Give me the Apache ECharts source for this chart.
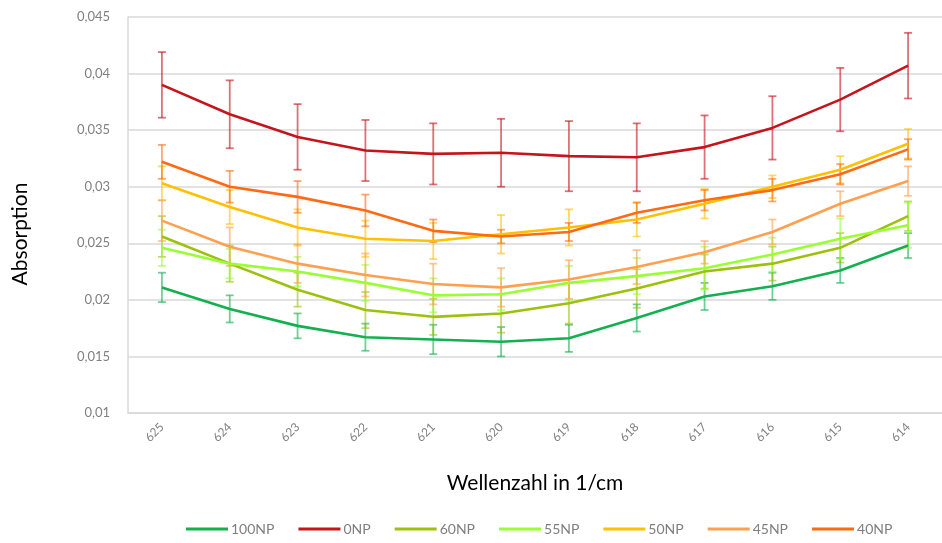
<!DOCTYPE html>
<html>
<head>
<meta charset="utf-8">
<script src="https://cdn.jsdelivr.net/npm/echarts@6/dist/echarts.min.js"></script>
<style>
  html, body { margin: 0; padding: 0; background: #fff; }
  #chart { width: 942px; height: 543px; }
</style>
</head>
<body>
<div id="chart"></div>
<script>
// Wellenzahl (x-Achse)
const categories = ['625', '624', '623', '622', '621', '620', '619', '618', '617', '616', '615', '614'];

// Mittelwerte je Probe
const np100 = [0.0211, 0.0192, 0.0177, 0.0167, 0.0165, 0.0163, 0.0166, 0.0184, 0.0203, 0.0212, 0.0226, 0.0248];
const np0   = [0.0390, 0.0364, 0.0344, 0.0332, 0.0329, 0.0330, 0.0327, 0.0326, 0.0335, 0.0352, 0.0377, 0.0407];
const np60  = [0.0256, 0.0232, 0.0209, 0.0191, 0.0185, 0.0188, 0.0197, 0.0210, 0.0225, 0.0232, 0.0246, 0.0274];
const np55  = [0.0246, 0.0232, 0.0225, 0.0215, 0.0204, 0.0205, 0.0215, 0.0221, 0.0228, 0.0240, 0.0254, 0.0266];
const np50  = [0.0303, 0.0282, 0.0264, 0.0254, 0.0252, 0.0258, 0.0264, 0.0271, 0.0285, 0.0300, 0.0315, 0.0338];
const np45  = [0.0270, 0.0247, 0.0232, 0.0222, 0.0214, 0.0211, 0.0218, 0.0229, 0.0242, 0.0260, 0.0285, 0.0305];
const np40  = [0.0322, 0.0300, 0.0291, 0.0279, 0.0261, 0.0256, 0.0260, 0.0277, 0.0288, 0.0297, 0.0311, 0.0333];

// Fehlerbalken (+/-)
const np100Err = [0.0013, 0.0012, 0.0011, 0.0012, 0.0013, 0.0013, 0.0012, 0.0012, 0.0012, 0.0012, 0.0011, 0.0011];
const np0Err   = [0.0029, 0.0030, 0.0029, 0.0027, 0.0027, 0.0030, 0.0031, 0.0030, 0.0028, 0.0028, 0.0028, 0.0029];
const np60Err  = [0.0018, 0.0016, 0.0015, 0.0016, 0.0016, 0.0017, 0.0018, 0.0017, 0.0015, 0.0015, 0.0013, 0.0013];
const np55Err  = [0.0016, 0.0013, 0.0013, 0.0016, 0.0015, 0.0014, 0.0015, 0.0016, 0.0019, 0.0015, 0.0018, 0.0020];
const np50Err  = [0.0015, 0.0015, 0.0016, 0.0016, 0.0016, 0.0017, 0.0016, 0.0015, 0.0013, 0.0010, 0.0012, 0.0013];
const np45Err  = [0.0018, 0.0017, 0.0017, 0.0019, 0.0018, 0.0017, 0.0017, 0.0015, 0.0010, 0.0011, 0.0011, 0.0013];
const np40Err  = [0.0015, 0.0014, 0.0014, 0.0014, 0.0010, 0.0006, 0.0008, 0.0009, 0.0009, 0.0010, 0.0009, 0.0009];

const names  = ['100NP', '0NP', '60NP', '55NP', '50NP', '45NP', '40NP'];
const colors = ['#12B04E', '#C4141C', '#9CC10A', '#99FF33', '#FFC000', '#FFA04F', '#FF6A12'];
const values = [np100, np0, np60, np55, np50, np45, np40];
const errors = [np100Err, np0Err, np60Err, np55Err, np50Err, np45Err, np40Err];

const chart = echarts.init(document.getElementById('chart'));

// Fehlerbalken als custom series
function errorSeries(idx) {
  const data = values[idx].map((v, i) => [i, v - errors[idx][i], v + errors[idx][i]]);
  return {
    name: names[idx],
    type: 'custom',
    z: 1,
    silent: true,
    data: data,
    renderItem: function (params, api) {
      const x = api.value(0);
      const lo = api.coord([x, api.value(1)]);
      const hi = api.coord([x, api.value(2)]);
      const w = 4;
      const style = { stroke: colors[idx], lineWidth: 1.8, opacity: 0.6 };
      return {
        type: 'group',
        children: [
          { type: 'line', shape: { x1: hi[0], y1: hi[1], x2: lo[0], y2: lo[1] }, style: style },
          { type: 'line', shape: { x1: hi[0] - w, y1: hi[1], x2: hi[0] + w, y2: hi[1] }, style: style },
          { type: 'line', shape: { x1: lo[0] - w, y1: lo[1], x2: lo[0] + w, y2: lo[1] }, style: style }
        ]
      };
    }
  };
}

const series = [];
names.forEach((n, i) => series.push(errorSeries(i)));
names.forEach((n, i) => {
  series.push({
    name: n,
    type: 'line',
    z: 3,
    data: values[i],
    symbol: 'none',
    smooth: false,
    lineStyle: { width: 2.6, color: colors[i] },
    itemStyle: { color: colors[i] }
  });
});

const option = {
  backgroundColor: '#fff',
  animation: false,
  color: colors,
  grid: {
    left: 128,
    top: 17,
    bottom: 130,
    right: -11
  },
  legend: {
    data: names,
    bottom: 2,
    left: 181,
    icon: 'rect',
    itemWidth: 42,
    itemHeight: 3,
    itemGap: 24,
    textStyle: { color: '#7f7f7f', fontSize: 14, fontFamily: 'Lato', padding: [0, 0, 0, -2] }
  },
  xAxis: {
    type: 'category',
    data: categories,
    boundaryGap: true,
    name: 'Wellenzahl in 1/cm',
    nameLocation: 'middle',
    nameGap: 60,
    nameTextStyle: { color: '#000', fontSize: 21, fontFamily: 'Lato' },
    axisLine: { show: true, lineStyle: { color: '#d9d9d9', width: 1.5 } },
    axisTick: { show: false },
    axisLabel: { rotate: 45, color: '#808080', fontSize: 12, fontFamily: 'Lato', margin: 12 },
    splitLine: { show: false }
  },
  yAxis: {
    type: 'value',
    min: 0.01,
    max: 0.045,
    interval: 0.005,
    name: 'Absorption',
    nameLocation: 'middle',
    nameGap: 97,
    nameRotate: 90,
    nameTextStyle: { color: '#000', fontSize: 21, fontFamily: 'Lato', padding: [0, 38, 0, 0] },
    axisLine: { show: true, lineStyle: { color: '#d9d9d9', width: 1.5 } },
    axisTick: { show: false },
    axisLabel: {
      color: '#808080',
      fontSize: 13,
      fontFamily: 'Lato',
      margin: 18,
      formatter: v => String(+v.toFixed(3)).replace('.', ',')
    },
    splitLine: { show: true, lineStyle: { color: '#d9d9d9', width: 1.5 } }
  },
  series: series
};

chart.setOption(option);
</script>
</body>
</html>
